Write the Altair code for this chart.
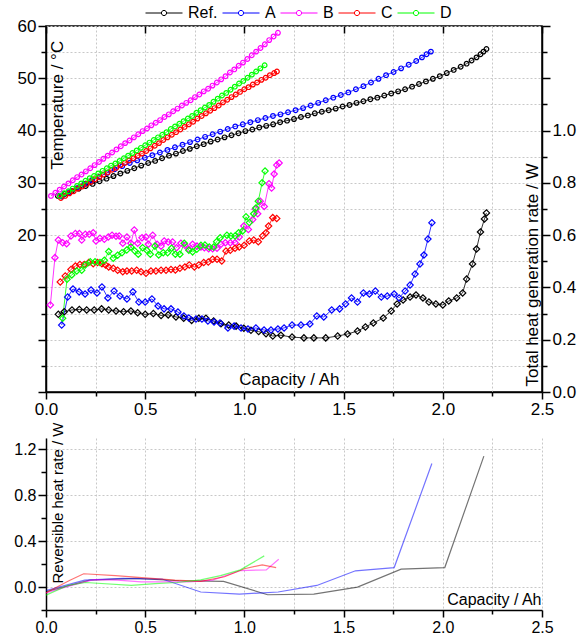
import altair as alt
import pandas as pd

FONT = "Liberation Sans"
SERIES = ["Ref.", "A", "B", "C", "D"]
COLORS = ["#000000", "#0000ff", "#ff00ff", "#ff0000", "#00ff00"]

# ---------------- Temperature (left axis, °C) ----------------
ref_t_cap = [0.06, 0.095, 0.13, 0.165, 0.20, 0.235, 0.27, 0.305, 0.34, 0.375, 0.41, 0.445, 0.48, 0.515,
             0.55, 0.585, 0.62, 0.655, 0.69, 0.725, 0.76, 0.795, 0.83, 0.865, 0.90, 0.935, 0.97, 1.005,
             1.04, 1.075, 1.11, 1.145, 1.18, 1.215, 1.25, 1.285, 1.32, 1.355, 1.39, 1.425, 1.46, 1.495,
             1.53, 1.565, 1.60, 1.635, 1.67, 1.705, 1.74, 1.775, 1.81, 1.845, 1.88, 1.915, 1.95, 1.985,
             2.02, 2.055, 2.09, 2.12, 2.145, 2.17, 2.19, 2.205, 2.22]
ref_t = [27.5, 27.9, 28.4, 28.9, 29.4, 29.8, 30.3, 30.8, 31.3, 31.8, 32.3, 32.8, 33.3, 33.8,
         34.2, 34.7, 35.2, 35.6, 36.1, 36.5, 37.0, 37.4, 37.9, 38.3, 38.7, 39.1, 39.5, 39.9,
         40.2, 40.6, 40.9, 41.2, 41.6, 41.9, 42.2, 42.6, 42.9, 43.3, 43.6, 43.9, 44.2, 44.6,
         44.9, 45.3, 45.6, 46.0, 46.3, 46.7, 47.1, 47.5, 47.9, 48.4, 48.9, 49.4, 49.9, 50.4,
         51.0, 51.6, 52.2, 52.8, 53.4, 54.0, 54.6, 55.1, 55.6]

a_t_cap = [0.080, 0.118, 0.156, 0.194, 0.232, 0.270, 0.308, 0.346, 0.384, 0.422, 0.460, 0.498, 0.536,
           0.574, 0.612, 0.650, 0.688, 0.726, 0.764, 0.802, 0.840, 0.878, 0.916, 0.954, 0.992, 1.030,
           1.068, 1.106, 1.144, 1.182, 1.220, 1.258, 1.296, 1.334, 1.372, 1.410, 1.448, 1.486, 1.524,
           1.562, 1.600, 1.638, 1.676, 1.714, 1.752, 1.790, 1.828, 1.866, 1.895, 1.918, 1.940]
a_t = [27.4, 28.2, 29.0, 29.8, 30.5, 31.2, 31.9, 32.6, 33.2, 33.8, 34.3, 34.8, 35.3,
       35.8, 36.3, 36.8, 37.3, 37.8, 38.3, 38.8, 39.3, 39.8, 40.3, 40.8, 41.2, 41.6,
       42.0, 42.4, 42.8, 43.1, 43.5, 43.9, 44.3, 44.8, 45.3, 45.8, 46.3, 46.8, 47.3,
       47.9, 48.5, 49.2, 49.9, 50.6, 51.2, 51.9, 52.6, 53.3, 54.0, 54.6, 55.1]

b_t_cap = [0.025, 0.047, 0.069, 0.091, 0.113, 0.135, 0.157, 0.179, 0.201, 0.223, 0.245, 0.267, 0.289,
           0.311, 0.333, 0.355, 0.377, 0.399, 0.421, 0.443, 0.465, 0.487, 0.509, 0.531, 0.553, 0.575,
           0.597, 0.619, 0.641, 0.663, 0.685, 0.707, 0.729, 0.751, 0.773, 0.795, 0.817, 0.839, 0.861,
           0.883, 0.905, 0.927, 0.949, 0.971, 0.993, 1.015, 1.037, 1.059, 1.081, 1.103, 1.125, 1.147, 1.169]
b_t = [27.5, 28.1, 28.7, 29.3, 29.9, 30.5, 31.1, 31.6, 32.2, 32.8, 33.4, 34.0, 34.6,
       35.2, 35.8, 36.4, 37.0, 37.6, 38.1, 38.7, 39.3, 39.9, 40.4, 41.0, 41.5, 42.0,
       42.6, 43.1, 43.7, 44.2, 44.8, 45.3, 45.8, 46.4, 46.9, 47.5, 48.0, 48.6, 49.2,
       49.8, 50.4, 51.1, 51.7, 52.4, 53.0, 53.7, 54.4, 55.1, 55.8, 56.5, 57.3, 58.0, 58.7]

c_t_cap = [0.075, 0.0965, 0.118, 0.1395, 0.161, 0.1825, 0.204, 0.2255, 0.247, 0.2685, 0.290, 0.3115,
           0.333, 0.3545, 0.376, 0.3975, 0.419, 0.4405, 0.462, 0.4835, 0.505, 0.5265, 0.548, 0.5695,
           0.591, 0.6125, 0.634, 0.6555, 0.677, 0.6985, 0.720, 0.7415, 0.763, 0.7845, 0.806, 0.8275,
           0.849, 0.8705, 0.892, 0.9135, 0.935, 0.9565, 0.978, 0.9995, 1.021, 1.0425, 1.064, 1.0855,
           1.107, 1.1285, 1.150, 1.164]
c_t = [27.1, 27.5, 28.0, 28.4, 28.9, 29.3, 29.8, 30.2, 30.7, 31.1, 31.6, 32.0,
       32.5, 32.9, 33.4, 33.8, 34.3, 34.7, 35.2, 35.6, 36.1, 36.6, 37.1, 37.6,
       38.2, 38.7, 39.2, 39.7, 40.2, 40.7, 41.2, 41.7, 42.3, 42.8, 43.3, 43.8,
       44.3, 44.8, 45.4, 45.9, 46.4, 46.9, 47.4, 47.9, 48.3, 48.8, 49.2, 49.7,
       50.1, 50.6, 51.0, 51.3]

d_t_cap = [0.070, 0.0915, 0.113, 0.1345, 0.156, 0.1775, 0.199, 0.2205, 0.242, 0.2635, 0.285, 0.3065,
           0.328, 0.3495, 0.371, 0.3925, 0.414, 0.4355, 0.457, 0.4785, 0.500, 0.5215, 0.543, 0.5645,
           0.586, 0.6075, 0.629, 0.6505, 0.672, 0.6935, 0.715, 0.7365, 0.758, 0.7795, 0.801, 0.8225,
           0.844, 0.8655, 0.887, 0.9085, 0.930, 0.9515, 0.973, 0.9945, 1.016, 1.0375, 1.059, 1.0805, 1.102]
d_t = [27.5, 28.0, 28.4, 28.9, 29.4, 29.9, 30.4, 30.9, 31.3, 31.8, 32.3, 32.8,
       33.3, 33.7, 34.2, 34.7, 35.2, 35.7, 36.2, 36.7, 37.2, 37.7, 38.2, 38.7,
       39.2, 39.7, 40.3, 40.8, 41.3, 41.8, 42.3, 42.8, 43.4, 43.9, 44.4, 44.9,
       45.5, 46.1, 46.7, 47.2, 47.8, 48.4, 49.0, 49.5, 50.1, 50.7, 51.3, 51.9, 52.5]

# ---------------- Total heat generation rate (right axis, W) ----------------
ref_q_cap = [0.062, 0.092, 0.131, 0.168, 0.205, 0.243, 0.28, 0.316, 0.353, 0.391, 0.428, 0.462, 0.5,
             0.541, 0.58, 0.616, 0.655, 0.694, 0.734, 0.77, 0.806, 0.845, 0.882, 0.921, 0.958, 0.997,
             1.033, 1.072, 1.109, 1.143, 1.184, 1.24, 1.30, 1.35, 1.41, 1.47, 1.52, 1.57, 1.61, 1.65,
             1.70, 1.74, 1.77, 1.80, 1.835, 1.865, 1.90, 1.93, 1.965, 2.0, 2.03, 2.07, 2.10, 2.12,
             2.15, 2.17, 2.19, 2.21, 2.22]
ref_q = [0.297, 0.307, 0.314, 0.316, 0.314, 0.314, 0.318, 0.314, 0.310, 0.307, 0.310, 0.303, 0.297,
         0.300, 0.293, 0.295, 0.287, 0.282, 0.274, 0.282, 0.282, 0.272, 0.261, 0.256, 0.252, 0.244,
         0.236, 0.231, 0.223, 0.214, 0.217, 0.210, 0.207, 0.207, 0.207, 0.214, 0.222, 0.233, 0.249, 0.264,
         0.283, 0.310, 0.337, 0.352, 0.363, 0.371, 0.360, 0.344, 0.337, 0.333, 0.348, 0.360, 0.379, 0.432,
         0.490, 0.547, 0.612, 0.662, 0.685]

a_q_cap = [0.079, 0.109, 0.136, 0.167, 0.197, 0.227, 0.257, 0.282, 0.312, 0.343, 0.373, 0.408, 0.438,
           0.468, 0.5, 0.534, 0.565, 0.595, 0.63, 0.665, 0.695, 0.72, 0.756, 0.786, 0.816, 0.847, 0.877,
           0.917, 0.948, 0.983, 1.018, 1.058, 1.099, 1.134, 1.169, 1.2, 1.24, 1.285, 1.33, 1.365, 1.40,
           1.44, 1.48, 1.51, 1.54, 1.57, 1.60, 1.63, 1.66, 1.69, 1.72, 1.755, 1.78, 1.81, 1.835, 1.86,
           1.885, 1.905, 1.925, 1.945]
a_q = [0.256, 0.363, 0.394, 0.383, 0.375, 0.390, 0.379, 0.402, 0.360, 0.386, 0.367, 0.356, 0.383,
       0.344, 0.344, 0.356, 0.329, 0.318, 0.318, 0.306, 0.291, 0.283, 0.279, 0.279, 0.272, 0.268, 0.264,
       0.245, 0.252, 0.245, 0.241, 0.245, 0.237, 0.237, 0.241, 0.245, 0.256, 0.256, 0.260, 0.291, 0.287,
       0.314, 0.318, 0.337, 0.360, 0.344, 0.379, 0.375, 0.386, 0.363, 0.367, 0.375, 0.360, 0.386, 0.409,
       0.451, 0.490, 0.524, 0.585, 0.647]

b_q_cap = [0.022, 0.045, 0.062, 0.084, 0.104, 0.126, 0.148, 0.168, 0.18, 0.198, 0.218, 0.238, 0.252,
           0.272, 0.294, 0.314, 0.333, 0.353, 0.369, 0.387, 0.408, 0.428, 0.445, 0.462, 0.484, 0.504,
           0.516, 0.538, 0.56, 0.58, 0.596, 0.616, 0.638, 0.658, 0.68, 0.70, 0.72, 0.739, 0.761, 0.781,
           0.798, 0.82, 0.84, 0.862, 0.882, 0.904, 0.929, 0.953, 0.974, 0.997, 1.02, 1.042, 1.055, 1.067,
           1.08, 1.10, 1.124, 1.137, 1.15, 1.163, 1.175]
b_q = [0.333, 0.514, 0.581, 0.571, 0.567, 0.597, 0.606, 0.606, 0.581, 0.603, 0.603, 0.609, 0.578,
       0.588, 0.584, 0.593, 0.600, 0.596, 0.597, 0.569, 0.593, 0.569, 0.620, 0.569, 0.590, 0.593,
       0.565, 0.600, 0.565, 0.558, 0.578, 0.574, 0.574, 0.552, 0.569, 0.561, 0.546, 0.565, 0.558, 0.555,
       0.552, 0.548, 0.548, 0.550, 0.565, 0.571, 0.571, 0.571, 0.593, 0.635, 0.622, 0.660, 0.700, 0.682,
       0.730, 0.710, 0.797, 0.780, 0.834, 0.868, 0.876]

c_q_cap = [0.072, 0.097, 0.126, 0.148, 0.171, 0.193, 0.215, 0.238, 0.26, 0.282, 0.30, 0.316, 0.339,
           0.361, 0.387, 0.408, 0.432, 0.457, 0.479, 0.504, 0.529, 0.554, 0.58, 0.605, 0.63, 0.652,
           0.675, 0.70, 0.722, 0.748, 0.77, 0.795, 0.818, 0.84, 0.862, 0.886, 0.907, 0.929, 0.953,
           0.974, 0.999, 1.025, 1.047, 1.07, 1.092, 1.109, 1.122, 1.143, 1.163]
c_q = [0.421, 0.444, 0.469, 0.482, 0.488, 0.488, 0.495, 0.491, 0.495, 0.491, 0.486, 0.478, 0.473,
       0.466, 0.460, 0.463, 0.463, 0.466, 0.460, 0.454, 0.463, 0.463, 0.466, 0.466, 0.469, 0.467,
       0.473, 0.478, 0.486, 0.478, 0.486, 0.495, 0.497, 0.508, 0.508, 0.501, 0.539, 0.542, 0.550,
       0.555, 0.561, 0.578, 0.581, 0.575, 0.597, 0.609, 0.635, 0.667, 0.664]

d_q_cap = [0.084, 0.106, 0.13, 0.155, 0.18, 0.198, 0.223, 0.247, 0.272, 0.294, 0.316, 0.339, 0.361,
           0.383, 0.407, 0.428, 0.447, 0.465, 0.487, 0.508, 0.526, 0.549, 0.568, 0.591, 0.613, 0.633,
           0.652, 0.675, 0.697, 0.72, 0.739, 0.76, 0.781, 0.801, 0.823, 0.845, 0.86, 0.878, 0.912,
           0.932, 0.953, 0.971, 0.991, 1.008, 1.025, 1.047, 1.058, 1.07, 1.089, 1.104]
d_q = [0.282, 0.431, 0.448, 0.463, 0.466, 0.486, 0.498, 0.498, 0.495, 0.504, 0.537, 0.512, 0.523,
       0.533, 0.543, 0.555, 0.540, 0.527, 0.552, 0.542, 0.527, 0.558, 0.524, 0.533, 0.533, 0.550,
       0.527, 0.527, 0.569, 0.542, 0.536, 0.546, 0.561, 0.562, 0.555, 0.555, 0.575, 0.590, 0.600,
       0.597, 0.597, 0.609, 0.616, 0.670, 0.648, 0.682, 0.704, 0.730, 0.800, 0.845]

# ---------------- Reversible heat rate (bottom panel, W) ----------------
ref_r_cap = [0.0, 0.22, 0.45, 0.67, 0.895, 1.117, 1.35, 1.57, 1.79, 2.01, 2.207]
ref_r = [-0.04, 0.06, 0.075, 0.055, 0.05, -0.067, -0.062, 0.0, 0.156, 0.17, 1.142]
a_r_cap = [0.0, 0.195, 0.39, 0.585, 0.78, 0.975, 1.17, 1.365, 1.56, 1.755, 1.945]
a_r = [-0.03, 0.06, 0.075, 0.07, -0.043, -0.061, -0.043, 0.014, 0.142, 0.17, 1.077]
b_r_cap = [0.0, 0.12, 0.24, 0.36, 0.48, 0.6, 0.72, 0.84, 0.98, 1.11, 1.173]
b_r = [-0.05, 0.01, 0.065, 0.06, 0.045, 0.045, 0.045, 0.06, 0.144, 0.15, 0.243]
c_r_cap = [0.0, 0.118, 0.19, 0.35, 0.5, 0.65, 0.78, 0.9, 1.0, 1.09, 1.16]
c_r = [-0.05, 0.057, 0.116, 0.10, 0.08, 0.06, 0.05, 0.09, 0.16, 0.194, 0.17]
d_r_cap = [0.0, 0.11, 0.2, 0.43, 0.55, 0.66, 0.78, 0.88, 0.98, 1.1]
d_r = [-0.07, 0.014, 0.04, 0.014, 0.03, 0.04, 0.063, 0.10, 0.15, 0.272]


def frame(name, caps, vals):
    return pd.DataFrame({"series": name, "cap": caps, "val": vals})


temp_df = pd.concat([frame("Ref.", ref_t_cap, ref_t), frame("A", a_t_cap, a_t), frame("B", b_t_cap, b_t),
                     frame("C", c_t_cap, c_t), frame("D", d_t_cap, d_t)], ignore_index=True)
heat_df = pd.concat([frame("Ref.", ref_q_cap, ref_q), frame("A", a_q_cap, a_q), frame("B", b_q_cap, b_q),
                     frame("C", c_q_cap, c_q), frame("D", d_q_cap, d_q)], ignore_index=True)
rev_df = pd.concat([frame("Ref.", ref_r_cap, ref_r), frame("A", a_r_cap, a_r), frame("B", b_r_cap, b_r),
                    frame("C", c_r_cap, c_r), frame("D", d_r_cap, d_r)], ignore_index=True)

color_scale = alt.Scale(domain=SERIES, range=COLORS)
x_scale = alt.Scale(domain=[0, 2.5], nice=False, zero=False)
x_vals = [i * 0.25 for i in range(11)]
GRID = dict(grid=True, gridColor="#c8c8c8", gridDash=[2, 2], gridWidth=1)
AX = dict(domainColor="black", domainWidth=1.5, tickColor="black", tickWidth=1.5,
          labelColor="black", labelFont=FONT, titleFont=FONT, titleColor="black",
          titleFontWeight="normal", labelFlush=False, labelOverlap=False, labelPadding=2)


def x_bottom_axis(font_size, title_x, title_y):
    return alt.Axis(orient="bottom", values=x_vals,
                    labelExpr="round(datum.value*4) % 2 == 0 ? format(datum.value, '.1f') : ''",
                    tickSize={"condition": {"test": "round(datum.value*4) % 2 == 0", "value": 7}, "value": 4},
                    labelFontSize=font_size, title="Capacity / Ah", titleFontSize=font_size,
                    titleX=title_x, titleY=title_y, titleAlign="right", titleBaseline="alphabetic",
                    titleAngle=0, **GRID, **AX)


legend_path = ("M-1,0H-0.14M0.14,0H1M0.14,0A0.14,0.14,0,1,1,-0.14,0"
               "A0.14,0.14,0,1,1,0.14,0Z")
legend = alt.Legend(orient="none", legendX=99, legendY=-21, direction="horizontal", columns=5,
                    title=None, symbolType=legend_path, symbolSize=1369, symbolStrokeWidth=1,
                    clipHeight=16, labelFont=FONT, labelFontSize=16, labelColor="black",
                    labelOffset=5, columnPadding=4, padding=0)

temp_y = alt.Y("val:Q", scale=alt.Scale(domain=[-10, 60], nice=False, zero=False),
               axis=alt.Axis(orient="left", values=list(range(-10, 61, 5)),
                             labelExpr="datum.value >= 20 && datum.value % 10 == 0 ? datum.label : ''",
                             tickSize={"condition": {"test": "datum.value % 10 == 0", "value": 8}, "value": 5},
                             labelFontSize=17, title="Temperature / °C", titleFontSize=17,
                             titleX=3, titleY=143, titleAngle=270, titleAlign="left", titleBaseline="top",
                             **GRID, **AX))
temp_x = alt.X("cap:Q", scale=x_scale, axis=x_bottom_axis(17, 293, -8))
temp_color = alt.Color("series:N", scale=color_scale, legend=legend, sort=SERIES)

temp_line = alt.Chart(temp_df).mark_line(strokeWidth=0.8).encode(x=temp_x, y=temp_y, color=temp_color)
temp_pts = alt.Chart(temp_df).mark_point(shape="circle", filled=False, size=22, strokeWidth=1.2,
                                         opacity=1).encode(x=temp_x, y=temp_y, color=temp_color)

heat_y = alt.Y("val:Q", scale=alt.Scale(domain=[0, 1.4], nice=False, zero=False),
               axis=alt.Axis(orient="right", values=[round(i * 0.1, 1) for i in range(15)],
                             labelExpr="round(datum.value*10) % 2 == 0 && datum.value <= 1.01 ? format(datum.value, '.1f') : ''",
                             tickSize={"condition": {"test": "round(datum.value*10) % 2 == 0", "value": 8}, "value": 5},
                             labelFontSize=17, title="Total heat generation rate / W", titleFontSize=17,
                             titleX=-18, titleY=360, titleAngle=270, titleAlign="left", titleBaseline="top",
                             grid=False, **AX))
heat_x = alt.X("cap:Q", scale=x_scale,
               axis=alt.Axis(orient="top", values=[i * 0.5 for i in range(6)], labels=False, domain=False,
                             tickSize=7, offset=-7, tickColor="black", tickWidth=1.5, grid=False, title=None))
heat_color = alt.Color("series:N", scale=color_scale, sort=SERIES)

heat_line = alt.Chart(heat_df).mark_line(strokeWidth=0.8).encode(x=heat_x, y=heat_y, color=heat_color)
heat_pts = alt.Chart(heat_df).mark_point(shape="diamond", filled=False, size=40, strokeWidth=1.2,
                                         opacity=1).encode(x=heat_x, y=heat_y, color=heat_color)

top = alt.layer(alt.layer(temp_line, temp_pts), alt.layer(heat_line, heat_pts)).resolve_scale(
    y="independent").resolve_axis(x="independent", y="independent").properties(
    width=496, height=366, view=alt.ViewBackground(stroke="black", strokeWidth=1.5))

rev_y = alt.Y("val:Q", scale=alt.Scale(domain=[-0.2, 1.3], nice=False, zero=False),
              axis=alt.Axis(orient="left", values=[round(-0.2 + 0.2 * i, 1) for i in range(8)],
                            labelExpr="round(datum.value*10) % 4 == 0 && datum.value > -0.01 ? format(datum.value, '.1f') : ''",
                            tickSize={"condition": {"test": "round(datum.value*10) % 4 == 0", "value": 8}, "value": 5},
                            gridOpacity={"condition": {"test": "round(datum.value*10) % 4 == 0 && datum.value > -0.01", "value": 1}, "value": 0},
                            labelFontSize=16, title="Reversible heat rate / W", titleFontSize=15,
                            titleX=4, titleY=145, titleAngle=270, titleAlign="left", titleBaseline="top",
                            **GRID, **AX))
rev = alt.Chart(rev_df).mark_line(strokeWidth=1.2, opacity=0.55).encode(
    x=alt.X("cap:Q", scale=x_scale, axis=x_bottom_axis(16, 495, -6)),
    y=rev_y,
    color=alt.Color("series:N", scale=color_scale, legend=None, sort=SERIES),
).properties(width=496, height=172)

chart = alt.vconcat(top, rev, spacing=3).resolve_scale(color="independent").resolve_legend(
    color="independent").properties(
    padding={"left": 13, "top": 4, "right": 0, "bottom": 0}, background="white",
    autosize=alt.AutoSizeParams(type="pad")
).configure(font=FONT).configure_view(stroke="transparent")

chart.save("out.html", embed_options={"renderer": "svg", "actions": False})
